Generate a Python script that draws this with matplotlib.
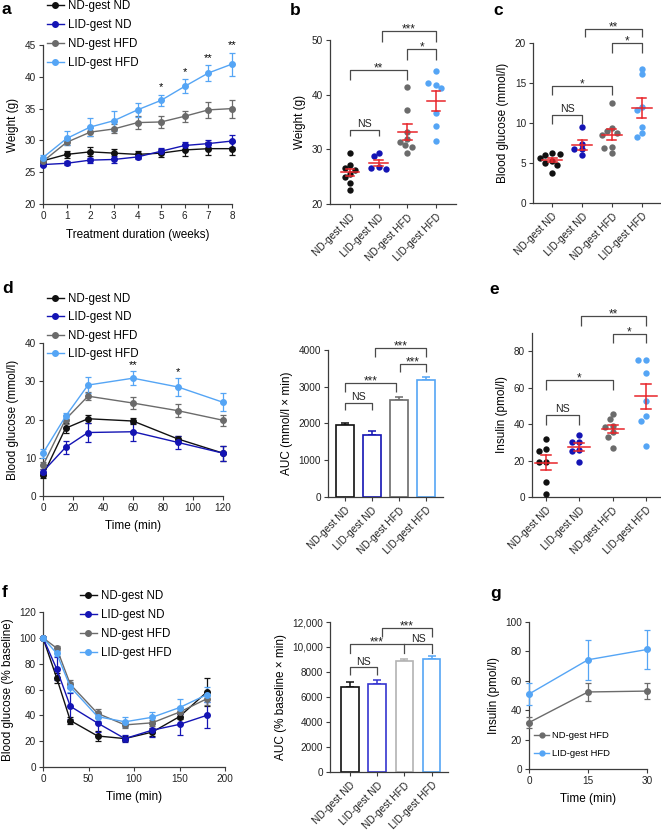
import matplotlib
matplotlib.use('Agg')
import matplotlib.pyplot as plt
from matplotlib.ticker import FuncFormatter
from matplotlib.lines import Line2D
import numpy as np

plt.rcParams['font.family'] = ['Liberation Sans', 'DejaVu Sans']

W, H = 661, 834

groups = ['ND-gest ND', 'LID-gest ND', 'ND-gest HFD', 'LID-gest HFD']
colors = ['#111111', '#1414b4', '#6b6b6b', '#55a5f5']
red = '#e8252a'
spine_col = '#3c3c3c'
brk_col = '#4a4a4a'

# a: body weight over treatment (mean, SEM)
weeks = [0, 1, 2, 3, 4, 5, 6, 7, 8]
weight_mean = [
    [26.8, 27.8, 28.2, 28.0, 27.8, 28.0, 28.5, 28.7, 28.7],
    [26.2, 26.4, 26.9, 27.0, 27.4, 28.3, 29.2, 29.5, 29.9],
    [26.7, 29.7, 31.3, 31.8, 32.8, 32.9, 33.8, 34.8, 35.0],
    [27.3, 30.3, 32.1, 33.1, 34.8, 36.3, 38.5, 40.6, 42.0],
]
weight_sem = [
    [0.4, 0.5, 0.7, 0.7, 0.6, 0.6, 1.0, 1.0, 1.0],
    [0.3, 0.3, 0.4, 0.5, 0.4, 0.5, 0.5, 0.6, 1.0],
    [0.5, 0.5, 0.6, 0.7, 1.0, 0.9, 0.9, 1.3, 1.4],
    [0.4, 1.1, 1.4, 1.6, 1.1, 0.9, 1.1, 1.2, 1.8],
]
weight_stars = {5: '*', 6: '*', 7: '**', 8: '**'}

# b: final weight, individual mice
final_weight = [
    [29.3, 27.1, 26.5, 26.3, 25.5, 25.0, 23.8, 22.6],
    [29.3, 28.7, 26.7, 26.5, 26.4],
    [41.4, 37.2, 33.2, 31.8, 31.4, 30.8, 30.5, 29.3],
    [44.4, 41.8, 42.1, 41.2, 36.7, 34.3, 31.6],
]

# c: fasting blood glucose
fasting_glucose = [
    [6.2, 6.0, 6.1, 5.6, 5.3, 5.0, 4.8, 3.8],
    [9.5, 7.4, 6.7, 6.7, 6.0],
    [12.5, 9.4, 9.0, 8.8, 8.5, 7.0, 6.9, 6.3],
    [16.8, 16.1, 12.0, 11.6, 9.5, 8.8, 8.3],
]

# d: GTT
gtt_time = [0, 15, 30, 60, 90, 120]
gtt_mean = [
    [5.4, 17.7, 20.2, 19.6, 14.9, 11.2],
    [6.4, 12.7, 16.6, 16.8, 14.0, 11.2],
    [8.0, 20.0, 26.1, 24.3, 22.3, 19.8],
    [11.2, 20.8, 29.0, 30.8, 28.5, 24.5],
]
gtt_sem = [
    [0.6, 1.3, 1.0, 0.7, 0.9, 2.0],
    [0.6, 1.8, 2.4, 2.3, 1.7, 2.0],
    [1.0, 1.2, 1.0, 1.5, 1.7, 1.4],
    [1.2, 1.0, 2.0, 1.8, 2.3, 2.4],
]
gtt_stars = {60: '**', 90: '*'}
gtt_auc = [1955, 1700, 2650, 3195]
gtt_auc_sem = [45, 95, 65, 80]

# e: fasting insulin
fasting_insulin = [
    [31.8, 26.3, 25.4, 19.3, 19.3, 8.3, 1.8],
    [34.0, 30.0, 30.0, 25.7, 25.4, 19.3],
    [45.4, 42.6, 39.2, 38.6, 35.8, 33.1, 27.0],
    [75.4, 75.4, 68.0, 52.9, 44.5, 41.9, 28.1],
]

# f: ITT
itt_time = [0, 15, 30, 60, 90, 120, 150, 180]
itt_mean = [
    [100, 69, 36, 24, 22, 27, 39, 58],
    [100, 76, 47, 34, 22, 28.5, 33, 40],
    [100, 92, 64, 41.5, 32.6, 34.2, 42.5, 52.8],
    [100, 88, 62, 39, 35, 38.5, 46, 56],
]
itt_sem = [
    [0, 4, 3, 3.5, 2, 3, 2, 11],
    [0, 9, 10, 7, 2.5, 5, 8, 10],
    [0, 1.5, 3, 3.5, 2.5, 2.5, 4, 5],
    [0, 2, 4, 3, 4, 4, 7, 6],
]
itt_auc = [6800, 7080, 8860, 9020]
itt_auc_sem = [380, 250, 210, 280]

# g: GSIS
gsis_time = [0, 15, 30]
gsis_nd_hfd = [31.6, 52.4, 53.0]
gsis_nd_hfd_sem = [3.5, 6.0, 5.5]
gsis_lid_hfd = [51.0, 74.3, 81.3]
gsis_lid_hfd_sem = [7.5, 13.5, 13.5]

fig = plt.figure(figsize=(W / 100, H / 100), dpi=100)


def px_axes(left, top, right, bottom):
    return fig.add_axes([left / W, 1 - bottom / H, (right - left) / W, (bottom - top) / H])


def style(ax):
    for s in ['top', 'right']:
        ax.spines[s].set_visible(False)
    for s in ['left', 'bottom']:
        ax.spines[s].set_color(spine_col)
        ax.spines[s].set_linewidth(0.9)
    ax.tick_params(direction='out', length=3, width=0.8, color=spine_col,
                   labelsize=7.2, labelcolor='#222222', pad=2)


def letter(x, y, s):
    fig.text(x / W, 1 - y / H, s, fontsize=12.5, fontweight='bold', va='baseline', ha='left')


def cat_axis(ax):
    ax.set_xticks(range(4))
    ax.set_xticklabels(groups, rotation=45, ha='right', rotation_mode='anchor', fontsize=7.3)
    ax.tick_params(axis='x', pad=3)


def bracket(ax, x1, x2, y, leg1, leg2, text, xs=None):
    ax.plot([x1, x1, x2, x2], [y - leg1, y, y, y - leg2], color=brk_col, lw=0.9,
            clip_on=False, solid_capstyle='butt')
    if xs is None:
        xs = (x1 + x2) / 2
    star_text(ax, xs, y, text)


def star_text(ax, x, y, text):
    if text == 'NS':
        ax.annotate(text, (x, y), xytext=(0, 2), textcoords='offset points',
                    ha='center', va='baseline', fontsize=7.6, color='#222', annotation_clip=False)
    else:
        ax.annotate(text, (x, y), xytext=(0, -1), textcoords='offset points',
                    ha='center', va='baseline', fontsize=8.5, color='#222', annotation_clip=False)


def swarm_x(ax, x0, vals, size_px=5.6):
    pts = ax.transData.transform(np.column_stack([np.full(len(vals), float(x0)), vals]))
    placed = []
    offs = []
    for y in pts[:, 1]:
        found = None
        for k in range(0, 30):
            cands = [0.0] if k == 0 else [-k * size_px * 0.45, k * size_px * 0.45]
            for cx in cands:
                if all(np.hypot(cx - px, y - py) >= size_px for px, py in placed):
                    found = cx
                    break
            if found is not None:
                break
        placed.append((found, y))
        offs.append(found)
    p0 = ax.transData.transform([(0, 0), (1, 0)])
    return x0 + np.array(offs) / (p0[1, 0] - p0[0, 0])


def dot_panel(ax, data):
    for i, vals in enumerate(data):
        xs = swarm_x(ax, i, vals)
        ax.scatter(xs, vals, s=21, color=colors[i], linewidths=0, zorder=3, clip_on=False)
        m = np.mean(vals)
        se = np.std(vals, ddof=1) / np.sqrt(len(vals))
        ax.plot([i - 0.33, i + 0.33], [m, m], color=red, lw=1.1, zorder=4)
        ax.plot([i, i], [m - se, m + se], color=red, lw=1.1, zorder=4)
        for yy in (m - se, m + se):
            ax.plot([i - 0.15, i + 0.15], [yy, yy], color=red, lw=1.1, zorder=4)


def line_panel(ax, t, means, sems, cols):
    for m, e, c in zip(means, sems, cols):
        ax.errorbar(t, m, yerr=e, color=c, ecolor=c, lw=1.0, elinewidth=0.9, capsize=2.2,
                    capthick=0.9, marker='o', markersize=4, clip_on=False, zorder=3)


def bar_panel(ax, vals, errs, edge_cols):
    x = np.arange(4)
    ax.bar(x, vals, width=0.64, color='white', edgecolor=edge_cols, linewidth=1.2, zorder=2)
    for i in range(4):
        ax.errorbar(x[i], vals[i], yerr=[[0], [errs[i]]], fmt='none', ecolor=edge_cols[i],
                    elinewidth=1.1, capsize=3, capthick=1.1, zorder=1)


def legend(ax, cols, labels, x, y, fs, spacing, ms=4, hl=1.45):
    handles = [Line2D([], [], color=c, marker='o', markersize=ms, lw=1.0) for c in cols]
    ax.legend(handles, labels, loc='upper left', bbox_to_anchor=(x / W, 1 - y / H),
              bbox_transform=fig.transFigure, frameon=False, fontsize=fs, handlelength=hl,
              handletextpad=0.35, labelspacing=spacing, borderpad=0, borderaxespad=0)


# ---------------- a ----------------
ax = px_axes(43, 45, 232, 204)
style(ax)
line_panel(ax, weeks, weight_mean, weight_sem, colors)
ax.set_xlim(0, 8)
ax.set_ylim(20, 45)
ax.set_xticks(weeks)
ax.set_yticks([20, 25, 30, 35, 40, 45])
ax.set_xlabel('Treatment duration (weeks)', fontsize=8.5, labelpad=6)
ax.set_ylabel('Weight (g)', fontsize=8.5, labelpad=4)
for w, s in weight_stars.items():
    ax.annotate(s, (w, weight_mean[3][w] + weight_sem[3][w]), xytext=(0, 3), textcoords='offset points',
                ha='center', va='baseline', fontsize=8, annotation_clip=False)
legend(ax, colors, groups, 47, 0, 8.3, 0.62)
letter(2, 14, 'a')

# ---------------- b ----------------
ax = px_axes(330, 40, 456, 204)
style(ax)
ax.set_xlim(-0.7, 3.7)
ax.set_ylim(20, 50)
ax.set_yticks([20, 30, 40, 50])
cat_axis(ax)
ax.set_ylabel('Weight (g)', fontsize=8.5, labelpad=4)
dot_panel(ax, final_weight)
bracket(ax, 0, 1, 33.5, 1.1, 1.1, 'NS')
bracket(ax, 0, 2, 44.5, 1.8, 1.8, '**')
bracket(ax, 2, 3, 48.3, 2.0, 2.0, '*')
bracket(ax, 1.1, 3, 51.6, 2.0, 2.0, '***')
letter(290, 15, 'b')

# ---------------- c ----------------
ax = px_axes(533, 43, 661, 203)
style(ax)
ax.set_xlim(-0.64, 3.64)
ax.set_ylim(0, 20)
ax.set_yticks([0, 5, 10, 15, 20])
cat_axis(ax)
ax.set_ylabel('Blood glucose (mmol/l)', fontsize=8.5, labelpad=4)
dot_panel(ax, fasting_glucose)
bracket(ax, 0, 1, 11.0, 1.1, 1.1, 'NS')
bracket(ax, 0, 2, 14.6, 1.1, 1.1, '*')
bracket(ax, 2, 3, 20.0, 1.2, 1.2, '*')
bracket(ax, 1.1, 3, 21.7, 1.0, 1.0, '**')
letter(493, 15, 'c')

# ---------------- d ----------------
ax = px_axes(43, 343, 223, 496)
style(ax)
line_panel(ax, gtt_time, gtt_mean, gtt_sem, colors)
ax.set_xlim(0, 120)
ax.set_ylim(0, 40)
ax.set_xticks([0, 20, 40, 60, 80, 100, 120])
ax.set_yticks([0, 10, 20, 30, 40])
ax.set_xlabel('Time (min)', fontsize=8.5, labelpad=5)
ax.set_ylabel('Blood glucose (mmol/l)', fontsize=8.5, labelpad=4)
for tt, s in gtt_stars.items():
    k = gtt_time.index(tt)
    ax.annotate(s, (tt, gtt_mean[3][k] + gtt_sem[3][k]), xytext=(0, 2.5), textcoords='offset points',
                ha='center', va='baseline', fontsize=8, annotation_clip=False)
legend(ax, colors, groups, 47, 293, 8.3, 0.55)
letter(2, 293, 'd')

# d AUC
ax = px_axes(328, 350, 443, 497)
style(ax)
bar_panel(ax, gtt_auc, gtt_auc_sem, colors)
ax.set_xlim(-0.63, 3.63)
ax.set_ylim(0, 4000)
ax.set_yticks([0, 1000, 2000, 3000, 4000])
cat_axis(ax)
ax.set_ylabel('AUC (mmol/l \u00d7 min)', fontsize=8.5, labelpad=4)
bracket(ax, 0, 1, 2570, 200, 200, 'NS')
bracket(ax, 0, 1.9, 3110, 245, 245, '***')
bracket(ax, 2.05, 3, 3610, 200, 200, '***')
bracket(ax, 1.1, 3, 4045, 230, 230, '***')

# ---------------- e ----------------
ax = px_axes(532, 333, 661, 497)
style(ax)
ax.set_xlim(-0.43, 3.46)
ax.set_ylim(0, 90)
ax.set_yticks([0, 20, 40, 60, 80])
cat_axis(ax)
ax.set_ylabel('Insulin (pmol/l)', fontsize=8.5, labelpad=4)
dot_panel(ax, fasting_insulin)
bracket(ax, 0, 1, 45.1, 5.5, 5.5, 'NS')
bracket(ax, 0, 2, 64.4, 5.5, 5.5, '*')
bracket(ax, 2, 3, 89.6, 5.3, 5.3, '*')
bracket(ax, 1.05, 3, 99.3, 5.5, 5.5, '**')
letter(489, 294, 'e')

# ---------------- f ----------------
ax = px_axes(43, 612, 225, 767)
style(ax)
line_panel(ax, itt_time, itt_mean, itt_sem, colors)
ax.set_xlim(0, 200)
ax.set_ylim(0, 120)
ax.set_xticks([0, 50, 100, 150, 200])
ax.set_yticks([0, 20, 40, 60, 80, 100, 120])
ax.set_xlabel('Time (min)', fontsize=8.5, labelpad=5)
ax.set_ylabel('Blood glucose (% baseline)', fontsize=8.5, labelpad=4)
legend(ax, colors, groups, 80, 590, 8.3, 0.6)
letter(2, 597, 'f')

# f AUC
ax = px_axes(330, 622, 448, 772)
style(ax)
bar_panel(ax, itt_auc, itt_auc_sem, [colors[0], '#3535d0', '#b3b3b3', colors[3]])
ax.set_xlim(-0.73, 3.6)
ax.set_ylim(0, 12000)
ax.set_yticks(range(0, 12001, 2000))
ax.yaxis.set_major_formatter(FuncFormatter(lambda v, p: f'{int(v):,}' if v >= 10000 else f'{int(v)}'))
cat_axis(ax)
ax.set_ylabel('AUC (% baseline \u00d7 min)', fontsize=8.5, labelpad=4)
bracket(ax, 0, 1, 8370, 610, 610, 'NS')
ax.plot([0, 0, 3, 3], [9550, 10210, 10210, 9550], color=brk_col, lw=0.9, clip_on=False)
ax.plot([2, 2], [9550, 10210], color=brk_col, lw=0.9, clip_on=False)
star_text(ax, 1.0, 10210, '***')
star_text(ax, 2.5, 10210, 'NS')
bracket(ax, 1.17, 3, 11490, 720, 720, '***')

# ---------------- g ----------------
ax = px_axes(529, 622, 647, 769)
style(ax)
line_panel(ax, gsis_time, [gsis_nd_hfd, gsis_lid_hfd], [gsis_nd_hfd_sem, gsis_lid_hfd_sem], colors[2:])
ax.set_xlim(0, 30)
ax.set_ylim(0, 100)
ax.set_xticks([0, 15, 30])
ax.set_yticks([0, 20, 40, 60, 80, 100])
ax.set_xlabel('Time (min)', fontsize=8.5, labelpad=5)
ax.set_ylabel('Insulin (pmol/l)', fontsize=8.5, labelpad=4)
legend(ax, colors[2:], ['ND-gest HFD', 'LID-gest HFD'], 534, 731, 6.8, 1.0, ms=3.5, hl=1.6)
letter(490, 598, 'g')

fig.savefig('out.png', dpi=100)
